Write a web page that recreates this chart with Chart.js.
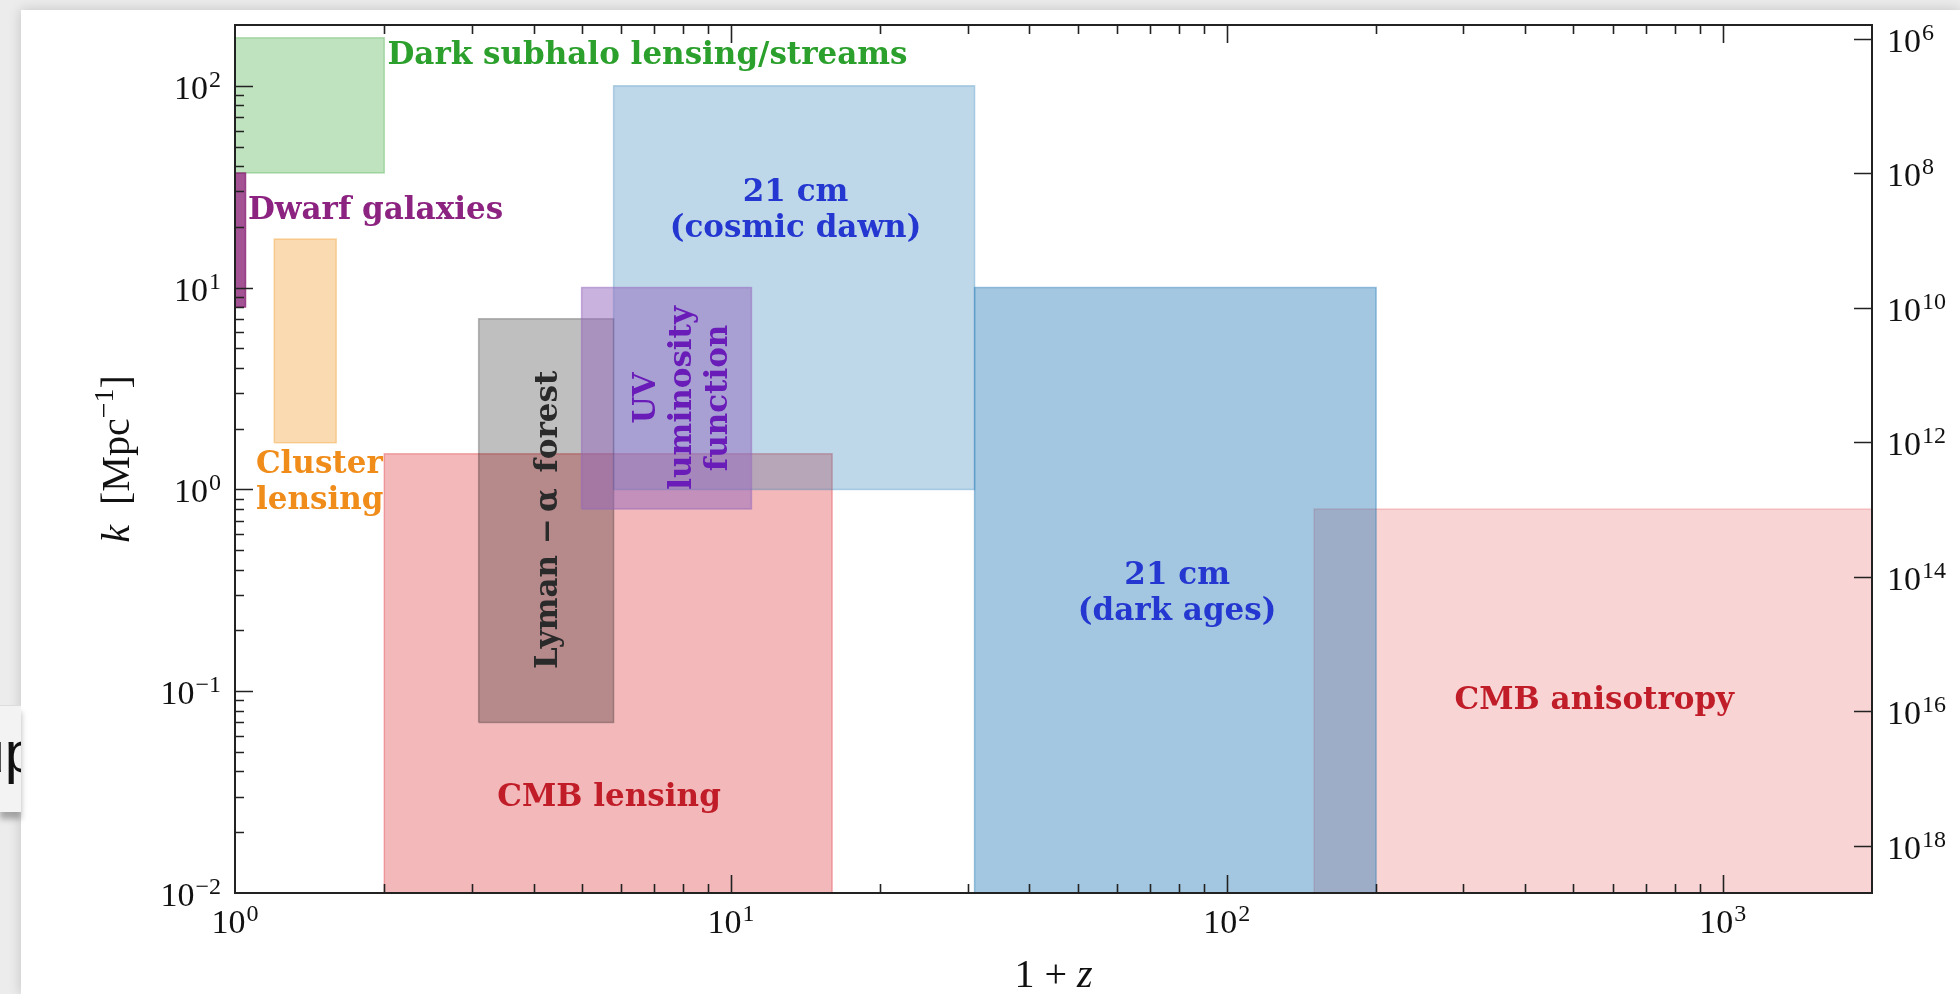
<!DOCTYPE html>
<html>
<head>
<meta charset="utf-8">
<title>Probes of small-scale structure</title>
<script src="https://cdn.jsdelivr.net/npm/chart.js@4.4.1/dist/chart.umd.min.js"></script>
<style>
  html, body { margin: 0; padding: 0; width: 1960px; height: 994px; overflow: hidden; background: #ececec; }
  #page { position: absolute; left: 21px; top: 10px; width: 1939px; height: 984px; background: #fff;
          box-shadow: 0 0 12px rgba(0,0,0,0.18); }
  #side { position: absolute; left: 0; top: 705px; width: 21px; height: 106px; background: #f3f3f3;
          border-top: 1px solid #dcdcdc; box-shadow: 0 7px 6px rgba(0,0,0,0.3); overflow: hidden; }
  #side span { position: absolute; right: -16px; top: 12px; font: 58px "Liberation Sans", sans-serif; color: #111; }
  #chart { position: absolute; left: 0; top: 0; }
</style>
</head>
<body>
<div id="page"></div>
<div id="side"><span>up</span></div>
<canvas id="chart" width="1960" height="994"></canvas>
<script>
// each probe is a box in (1+z, k); drawn in this order
const probes = ["CMB lensing", "CMB anisotropy", "21 cm (dark ages)", "21 cm (cosmic dawn)",
  "Lyman-alpha forest", "UV luminosity function", "Dark subhalo lensing/streams", "Dwarf galaxies", "Cluster lensing"];
const zLow  = [2.0, 150, 31, 5.8, 3.1, 5.0, 1.0, 1.0, 1.2];
const zHigh = [16, 2000, 200, 31, 5.8, 11, 2.0, 1.05, 1.6];
const kLow  = [0.01, 0.01, 0.01, 1.0, 0.07, 0.8, 37, 8, 1.7];
const kHigh = [1.5, 0.8, 10, 100, 7, 10, 173, 37, 17.4];

const boxColors = ["rgba(220,40,45,0.33)", "rgba(220,40,45,0.2)", "rgba(31,119,180,0.41)", "rgba(31,119,180,0.29)",
  "rgba(0,0,0,0.25)", "rgba(148,103,189,0.5)", "rgba(44,160,44,0.3)", "rgba(140,40,120,0.8)", "rgba(240,150,30,0.35)"];

// text written on the plot, anchored in data coordinates
const labelLines = [["CMB lensing"], ["CMB anisotropy"], ["21 cm", "(dark ages)"], ["21 cm", "(cosmic dawn)"],
  ["Lyman \u2212\u2009\u03b1\u2002forest"], ["UV", "luminosity", "function"], ["Dark subhalo lensing/streams"],
  ["Dwarf galaxies"], ["Cluster", "lensing"]];
const labelZ = [5.68, 551, 79.4, 13.5, 4.24, 7.9, 2.03, 1.062, 1.102];
const labelK = [0.0306, 0.0926, 0.314, 24.8, 0.706, 2.84, 145.8, 24.7, 1.114];
const labelColors = ["#c01d28", "#c01d28", "#2437d0", "#2437d0", "#2a2a2a", "#6a1cb8", "#2ca02c", "#8c2380", "#f08c1a"];
const labelAlign = ["center", "center", "center", "center", "center", "center", "left", "left", "left"];
const labelRotated = [false, false, false, false, true, true, false, false, false];

// axes
const zMin = 1, zMax = 2000;
const kMin = 0.01, kMax = 200;
const zTicks = [1, 10, 100, 1000];
const kTicks = [0.01, 0.1, 1, 10, 100];
const massTicks = [1e6, 1e8, 1e10, 1e12, 1e14, 1e16, 1e18];
const massAtK1 = 5.0e12; // right axis: M = massAtK1 * k^-3

const datasets = probes.map((name, i) => ({
  label: name,
  data: [
    { x: zLow[i], y: kLow[i] }, { x: zHigh[i], y: kLow[i] }, { x: zHigh[i], y: kHigh[i] },
    { x: zLow[i], y: kHigh[i] }, { x: zLow[i], y: kLow[i] }
  ],
  showLine: true,
  fill: 'shape',
  backgroundColor: boxColors[i],
  borderColor: boxColors[i],
  borderWidth: 1.5,
  pointRadius: 0,
  tension: 0,
  order: probes.length - i
}));

function minorValues(min, max) {
  const out = [];
  for (let e = Math.floor(Math.log10(min)); Math.pow(10, e) < max; e++) {
    for (let m = 1; m < 10; m++) {
      const v = m * Math.pow(10, e);
      if (v > min * 1.0001 && v < max * 0.9999) out.push({ v, major: m === 1 });
    }
  }
  return out;
}

function drawPower(ctx, value, x, y, align) {
  const exp = Math.round(Math.log10(value));
  const sup = exp < 0 ? '\u2212' + (-exp) : String(exp);
  ctx.font = '34px "Liberation Serif"';
  const wb = ctx.measureText('10').width;
  ctx.font = '24px "Liberation Serif"';
  const ws = ctx.measureText(sup).width;
  const w = wb + 1 + ws;
  const x0 = align === 'right' ? x - w : align === 'center' ? x - w / 2 : x;
  ctx.textAlign = 'left';
  ctx.textBaseline = 'alphabetic';
  ctx.font = '34px "Liberation Serif"';
  ctx.fillText('10', x0, y);
  ctx.font = '24px "Liberation Serif"';
  ctx.fillText(sup, x0 + wb + 1, y - 12);
}

const decor = {
  id: 'decor',
  afterDatasetsDraw(chart) {
    const ctx = chart.ctx, xs = chart.scales.x, ys = chart.scales.y;
    const size = 31, lineH = 36;
    ctx.save();
    ctx.font = 'bold ' + size + 'px "DejaVu Serif"';
    ctx.textBaseline = 'alphabetic';
    labelLines.forEach((lines, i) => {
      const px = xs.getPixelForValue(labelZ[i]);
      const py = ys.getPixelForValue(labelK[i]);
      ctx.save();
      ctx.translate(px, py);
      if (labelRotated[i]) ctx.rotate(-Math.PI / 2);
      ctx.fillStyle = labelColors[i];
      ctx.textAlign = labelAlign[i];
      lines.forEach((t, j) => {
        const dy = (j - (lines.length - 1) / 2) * lineH;
        ctx.fillText(t, 0, dy + size * 0.36);
      });
      ctx.restore();
    });
    ctx.restore();
  },
  afterDraw(chart) {
    const ctx = chart.ctx, a = chart.chartArea;
    const xs = chart.scales.x, ys = chart.scales.y, ms = chart.scales.m;
    ctx.save();
    ctx.strokeStyle = '#222';
    ctx.fillStyle = '#111';
    ctx.lineWidth = 1.6;
    ctx.beginPath();
    minorValues(zMin, zMax).forEach(t => {
      const px = Math.round(xs.getPixelForValue(t.v)) + 0.5;
      const len = t.major ? 18 : 9;
      ctx.moveTo(px, a.bottom); ctx.lineTo(px, a.bottom - len);
      ctx.moveTo(px, a.top); ctx.lineTo(px, a.top + len);
    });
    minorValues(kMin, kMax).forEach(t => {
      const py = Math.round(ys.getPixelForValue(t.v)) + 0.5;
      const len = t.major ? 18 : 9;
      ctx.moveTo(a.left, py); ctx.lineTo(a.left + len, py);
    });
    massTicks.forEach(v => {
      const py = Math.round(ms.getPixelForValue(v)) + 0.5;
      ctx.moveTo(a.right, py); ctx.lineTo(a.right - 18, py);
    });
    ctx.stroke();

    ctx.lineWidth = 2;
    ctx.strokeRect(a.left, a.top, a.right - a.left, a.bottom - a.top);

    zTicks.forEach(v => drawPower(ctx, v, xs.getPixelForValue(v), a.bottom + 40, 'center'));
    kTicks.forEach(v => drawPower(ctx, v, a.left - 14, ys.getPixelForValue(v) + 13, 'right'));
    massTicks.forEach(v => drawPower(ctx, v, a.right + 15, ms.getPixelForValue(v) + 13, 'left'));

    // x title: 1 + z
    ctx.textBaseline = 'alphabetic';
    const cx = (a.left + a.right) / 2;
    ctx.font = '40px "Liberation Serif"';
    const w1 = ctx.measureText('1 + ').width;
    ctx.font = 'italic 40px "Liberation Serif"';
    const w2 = ctx.measureText('z').width;
    let x0 = cx - (w1 + w2) / 2;
    ctx.font = '40px "Liberation Serif"';
    ctx.textAlign = 'left';
    ctx.fillText('1 + ', x0, 987);
    ctx.font = 'italic 40px "Liberation Serif"';
    ctx.fillText('z', x0 + w1, 987);

    // y title: k [Mpc^-1]
    const cy = (a.top + a.bottom) / 2;
    const parts = [
      { t: 'k', f: 'italic 40px "Liberation Serif"', dy: 0 },
      { t: '  [Mpc', f: '40px "Liberation Serif"', dy: 0 },
      { t: '\u22121', f: '28px "Liberation Serif"', dy: -16 },
      { t: ']', f: '40px "Liberation Serif"', dy: 0 }
    ];
    let total = 0;
    parts.forEach(p => { ctx.font = p.f; p.w = ctx.measureText(p.t).width; total += p.w; });
    ctx.translate(129, cy);
    ctx.rotate(-Math.PI / 2);
    let xx = -total / 2;
    parts.forEach(p => { ctx.font = p.f; ctx.fillText(p.t, xx, p.dy); xx += p.w; });
    ctx.restore();
  }
};

new Chart(document.getElementById('chart'), {
  type: 'scatter',
  data: { datasets },
  options: {
    responsive: false,
    animation: false,
    layout: { padding: { left: 235, right: 88, top: 25, bottom: 101 } },
    plugins: { legend: { display: false }, tooltip: { enabled: false } },
    scales: {
      x: { type: 'logarithmic', min: zMin, max: zMax, display: false },
      y: { type: 'logarithmic', min: kMin, max: kMax, display: false },
      m: { type: 'logarithmic', position: 'right', reverse: true, display: false,
           min: massAtK1 / Math.pow(kMax, 3), max: massAtK1 / Math.pow(kMin, 3) }
    }
  },
  plugins: [decor]
});
</script>
</body>
</html>
